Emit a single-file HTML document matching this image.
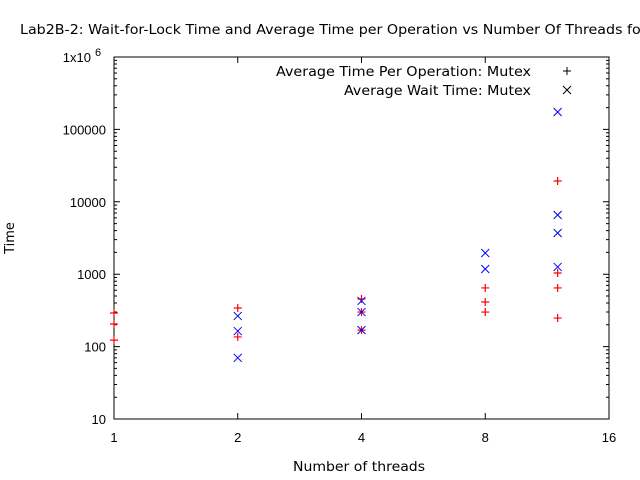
<!DOCTYPE html>
<html><head><meta charset="utf-8"><style>
body{margin:0;background:#fff}
svg{display:block;font-family:"Liberation Sans",sans-serif;font-size:13px}
.dv{font-family:"DejaVu Sans","Liberation Sans",sans-serif;font-size:13px}
</style></head><body>
<svg id="chart" width="640" height="480" xmlns="http://www.w3.org/2000/svg">
<text class="dv" x="20" y="34" fill="#000" textLength="675" lengthAdjust="spacingAndGlyphs">Lab2B-2: Wait-for-Lock Time and Average Time per Operation vs Number Of Threads for Mutex</text>
<text class="dv" x="14" y="238" transform="rotate(-90 14 238)" text-anchor="middle">Time</text>
<text class="dv" x="293" y="471" textLength="132" lengthAdjust="spacingAndGlyphs">Number of threads</text>
<g id="axes"></g>
<g id="marks"></g>
<g>
<text class="dv" x="276" y="76" textLength="255" lengthAdjust="spacingAndGlyphs">Average Time Per Operation: Mutex</text>
<path d="M563 71h8M567 67v8" stroke="#000"/>
<text class="dv" x="344" y="95" textLength="187" lengthAdjust="spacingAndGlyphs">Average Wait Time: Mutex</text>
<path d="M563 86l8 8M571 86l-8 8" stroke="#000"/>
</g>
</svg>
<script>
const xTicks=[1,2,4,8,16];
const yTicks=[10,100,1000,10000,100000,1000000];
const yTickLabels=["10","100","1000","10000","100000","1x10"];
const opThreads=[1,1,1,2,2,4,4,4,8,8,8,12,12,12,12];
const opValues=[291,205,123,341,136,454,300,169,646,413,300,19400,1040,646,248];
const waitThreads=[2,2,2,4,4,4,8,8,12,12,12,12];
const waitValues=[265,164,70,427,300,169,1960,1180,174000,6580,3710,1260];
const L=114,R=609,T=57,B=419;
const xs=v=>L+(R-L)*Math.log2(v)/4;
const ys=v=>B-(B-T)*(Math.log10(v)-1)/5;
const NS="http://www.w3.org/2000/svg";
const axes=document.getElementById('axes'),marks=document.getElementById('marks');
function mk(tag,attrs,parent){const e=document.createElementNS(NS,tag);for(const k in attrs)e.setAttribute(k,attrs[k]);parent.appendChild(e);return e;}
const frame=mk('rect',{x:L,y:T,width:R-L,height:B-T,fill:'none',stroke:'#000'},axes);


let d='';
xTicks.forEach(v=>{const x=xs(v);d+=`M${x} ${B}v-6M${x} ${T}v6`;});
yTicks.forEach((v,i)=>{const y=ys(v);d+=`M${L} ${y}h6M${R} ${y}h-6`;
 if(i<yTicks.length-1){for(let m=2;m<10;m++){const ym=ys(v*m);d+=`M${L} ${ym}h3M${R} ${ym}h-3`;}}});
const tk=mk('path',{d:d,stroke:'#000',fill:'none'},axes);


xTicks.forEach(v=>{const t=mk('text',{x:xs(v),y:B+23,'text-anchor':'middle'},axes);t.textContent=v;
 
 });
yTicks.forEach((v,i)=>{const t=mk('text',{x:i===5?91:106,y:ys(v)+5,'text-anchor':'end'},axes);t.textContent=yTickLabels[i];
 
 
 if(i===5){const s=mk('text',{x:95,y:ys(v)-1,'font-size':'11'},axes);s.textContent='6';
 
 }});
opThreads.forEach((t,i)=>{const x=xs(t),y=ys(opValues[i]);
 const p=mk('path',{d:`M${x-4} ${y}h8M${x} ${y-4}v8`,stroke:'#f00','stroke-width':1.2},marks);
 
 });
waitThreads.forEach((t,i)=>{const x=xs(t),y=ys(waitValues[i]);
 const p=mk('path',{d:`M${x-4} ${y-4}l8 8M${x+4} ${y-4}l-8 8`,stroke:'#00f','stroke-width':1},marks);
 
 });
</script>
</body></html>
